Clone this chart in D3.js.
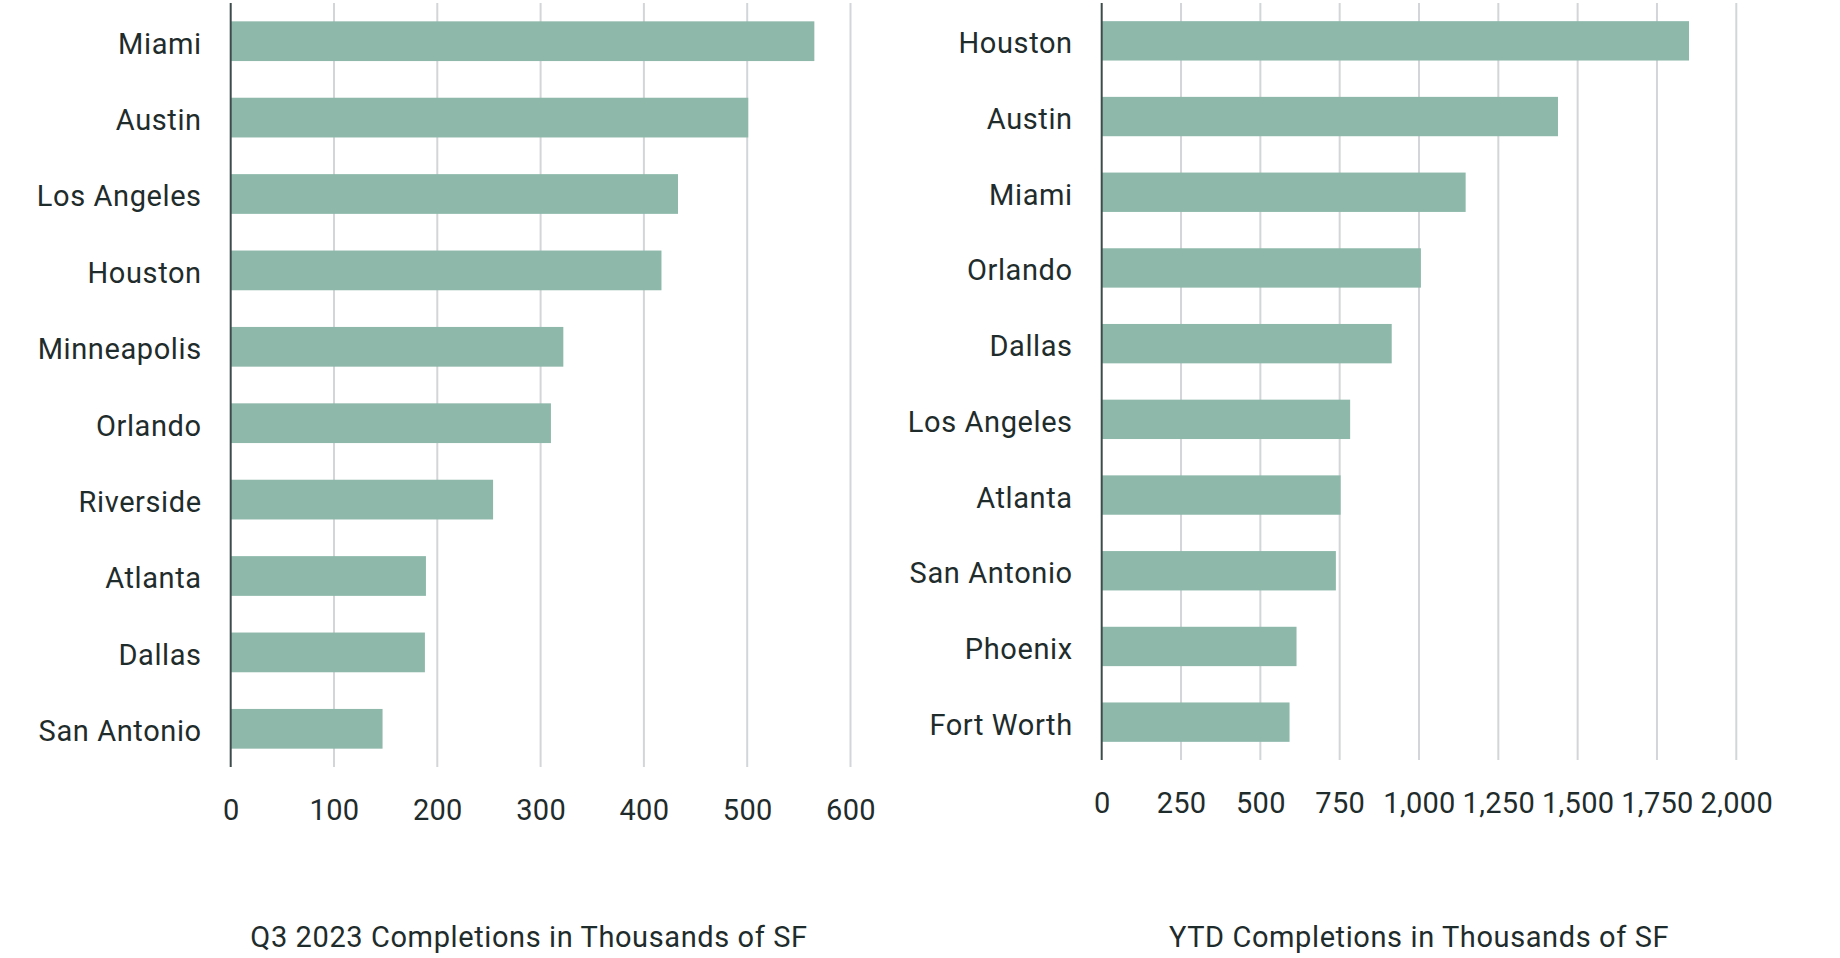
<!DOCTYPE html>
<html lang="en">
<head>
    <meta charset="UTF-8">
    <title>completions bar charts</title>
    <script src="https://d3js.org/d3.v7.min.js"></script>
    <style>
        body { margin: 0; background: #fff; }
        svg text { font-family: Roboto, "Noto Sans", sans-serif; fill: #1f2c2c; }
    </style>
</head>
<body>
    <svg></svg>
    <script>
        // Q3 2023 completions (thousands of SF)
        const q3Cities = ["Miami", "Austin", "Los Angeles", "Houston", "Minneapolis",
                          "Orlando", "Riverside", "Atlanta", "Dallas", "San Antonio"];
        const q3Values = [565, 501, 433, 417, 322, 310, 254, 189, 188, 147];
        const q3Ticks = [0, 100, 200, 300, 400, 500, 600];

        // YTD completions (thousands of SF)
        const ytdCities = ["Houston", "Austin", "Miami", "Orlando", "Dallas",
                           "Los Angeles", "Atlanta", "San Antonio", "Phoenix", "Fort Worth"];
        const ytdValues = [1851, 1438, 1147, 1006, 914, 783, 753, 738, 614, 592];
        const ytdTicks = [0, 250, 500, 750, 1000, 1250, 1500, 1750, 2000];

        const width = 1840;
        const height = 958;
        const barColor = "#8db8aa";
        const fontSize = 29;

        const svg = d3.select("svg")
            .attr("width", width)
            .attr("height", height);

        function drawPanel(cfg) {
            const g = svg.append("g");

            const x = d3.scaleLinear()
                .domain([0, cfg.ticks[cfg.ticks.length - 1]])
                .range([cfg.x0, cfg.x1]);

            const y = d3.scaleBand()
                .domain(cfg.cities)
                .range([cfg.top, cfg.bottom])
                .paddingInner(0.48)
                .paddingOuter(0.24);

            // grid lines
            g.selectAll("line.grid")
                .data(cfg.ticks.slice(1))
                .enter()
                .append("line")
                .attr("class", "grid")
                .attr("x1", d => x(d))
                .attr("x2", d => x(d))
                .attr("y1", cfg.top)
                .attr("y2", cfg.bottom)
                .attr("stroke", "#d2d6d8")
                .attr("stroke-width", 2);

            // bars
            g.selectAll("rect")
                .data(cfg.values)
                .enter()
                .append("rect")
                .attr("x", x(0))
                .attr("y", (d, i) => y(cfg.cities[i]))
                .attr("width", d => x(d) - x(0))
                .attr("height", y.bandwidth())
                .attr("fill", barColor);

            // baseline
            g.append("line")
                .attr("x1", x(0))
                .attr("x2", x(0))
                .attr("y1", cfg.top)
                .attr("y2", cfg.bottom)
                .attr("stroke", "#3e4b4b")
                .attr("stroke-width", 2);

            // category labels
            const yAxis = g.append("g")
                .attr("transform", `translate(${x(0)},0)`)
                .call(d3.axisLeft(y).tickSize(0).tickPadding(29));
            yAxis.select(".domain").remove();
            yAxis.selectAll("text")
                .style("font-size", fontSize + "px")
                .style("letter-spacing", "0.6px")
                .attr("dy", "0.43em");

            // value ticks
            const xAxis = g.append("g")
                .attr("transform", `translate(0,${cfg.bottom})`)
                .call(d3.axisBottom(x)
                    .tickValues(cfg.ticks)
                    .tickSize(0)
                    .tickPadding(32)
                    .tickFormat(d3.format(",")));
            xAxis.select(".domain").remove();
            xAxis.selectAll("text")
                .style("font-size", fontSize + "px")
                .style("letter-spacing", "0.3px");

            // caption
            g.append("text")
                .attr("x", cfg.captionX)
                .attr("y", 947)
                .attr("text-anchor", "middle")
                .style("font-size", "29px")
                .style("letter-spacing", "0.6px")
                .text(cfg.caption);
        }

        drawPanel({
            cities: q3Cities, values: q3Values, ticks: q3Ticks,
            x0: 230.7, x1: 850.5, top: 3, bottom: 767,
            caption: "Q3 2023 Completions in Thousands of SF", captionX: 529
        });

        drawPanel({
            cities: ytdCities, values: ytdValues, ticks: ytdTicks,
            x0: 1101.7, x1: 1736.3, top: 3, bottom: 760,
            caption: "YTD Completions in Thousands of SF", captionX: 1419
        });
    </script>
</body>
</html>
